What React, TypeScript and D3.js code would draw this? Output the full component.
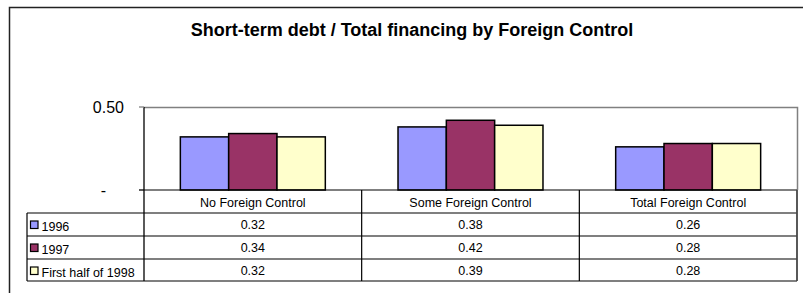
import React from "react";
import { scaleBand, scaleLinear } from "d3";

// data
const categories = ["No Foreign Control", "Some Foreign Control", "Total Foreign Control"];
const seriesNames = ["1996", "1997", "First half of 1998"];
const values1996 = [0.32, 0.38, 0.26];
const values1997 = [0.34, 0.42, 0.28];
const values1998 = [0.32, 0.39, 0.28];
const tickValues = [0, 0.5];
const tickLabels = ["-", "0.50"];
const colors = ["#9999FF", "#993366", "#FFFFCC"];

const seriesValues = [values1996, values1997, values1998];

const W = 803;
const H = 293;
const plot = { left: 144, right: 797, top: 107, bottom: 190 };
const tableLeft = 27;
const rowH = 23;
const font = "Liberation Sans, Arial, sans-serif";

export default function App() {
  const x0 = scaleBand<string>().domain(categories).range([plot.left, plot.right]);
  const bw = x0.bandwidth();
  const x1 = scaleBand<string>().domain(seriesNames).range([bw * 0.167, bw * 0.833]);
  const y = scaleLinear().domain([0, 0.5]).range([plot.bottom, plot.top]);

  const rowTop = (i: number) => plot.bottom + i * rowH; // row 0 = category names
  const tableBottom = rowTop(seriesNames.length + 1) - 1;

  return (
    <div style={{ position: "absolute", left: 0, top: 0 }}>
      <svg width={W} height={H} fontFamily={font} style={{ display: "block", background: "#fff" }}>
        {/* outer frame, cut off at the right and bottom */}
        <path d={`M9.5,${H + 2}V7.5H${W + 2}`} fill="none" stroke="#222" strokeWidth={1.5} />

        <text x={412} y={36} textAnchor="middle" fontSize={18} fontWeight="bold" fill="#000">
          Short-term debt / Total financing by Foreign Control
        </text>

        {/* plot area border */}
        <path d={`M${plot.left},${plot.top + 0.5}H${plot.right + 0.5}V${plot.bottom}`} fill="none" stroke="#808080" strokeWidth={1.5} />

        {/* bars */}
        {categories.map((c, ci) => (
          <g key={c} transform={`translate(${x0(c)},0)`}>
            {seriesNames.map((s, si) => {
              const v = seriesValues[si][ci];
              return (
                <rect key={s} x={x1(s)} y={y(v)} width={x1.bandwidth()} height={y(0) - y(v)}
                  fill={colors[si]} stroke="#000" strokeWidth={1.5} />
              );
            })}
          </g>
        ))}

        {/* y axis */}
        <line x1={plot.left} x2={plot.left} y1={plot.top} y2={tableBottom} stroke="#000" strokeWidth={1.3} />
        {tickValues.map((t, i) => (
          <g key={t}>
            <line x1={plot.left - 5} x2={plot.left} y1={y(t)} y2={y(t)} stroke={t === 0 ? "#000" : "#808080"} strokeWidth={1.3} />
            <text x={t === 0 ? 106 : 124} y={y(t) + 6} textAnchor="end" fontSize={16} fill="#000">
              {tickLabels[i]}
            </text>
          </g>
        ))}

        {/* data table */}
        <g stroke="#000" strokeWidth={1.2}>
          <line x1={plot.left} x2={plot.right} y1={plot.bottom} y2={plot.bottom} />
          {seriesNames.map((s, i) => (
            <line key={s} x1={tableLeft} x2={plot.right} y1={rowTop(i + 1)} y2={rowTop(i + 1)} />
          ))}
          <line x1={tableLeft} x2={plot.right} y1={tableBottom} y2={tableBottom} />
          <line x1={tableLeft} x2={tableLeft} y1={rowTop(1)} y2={tableBottom} />
          {categories.map((c) => (
            <line key={c} x1={(x0(c) ?? 0) + bw} x2={(x0(c) ?? 0) + bw} y1={plot.bottom} y2={tableBottom} />
          ))}
        </g>
        <path d={`M${plot.right},${plot.bottom}V${tableBottom}`} stroke="#555" strokeWidth={1.5} />

        <g fontSize={12.5} fill="#000">
          {categories.map((c) => (
            <text key={c} x={(x0(c) ?? 0) + bw / 2} y={rowTop(0) + 16.5} textAnchor="middle">{c}</text>
          ))}
          {seriesNames.map((s, si) => (
            <g key={s}>
              <rect x={30.5} y={rowTop(si + 1) + rowH / 2 - 3.5} width={7.5} height={7.5}
                fill={colors[si]} stroke="#000" strokeWidth={1.2} />
              <text x={41.5} y={rowTop(si + 1) + 17.5}>{s}</text>
              {categories.map((c, ci) => (
                <text key={c} x={(x0(c) ?? 0) + bw / 2} y={rowTop(si + 1) + 16} textAnchor="middle">
                  {seriesValues[si][ci].toFixed(2)}
                </text>
              ))}
            </g>
          ))}
        </g>
      </svg>
    </div>
  );
}
